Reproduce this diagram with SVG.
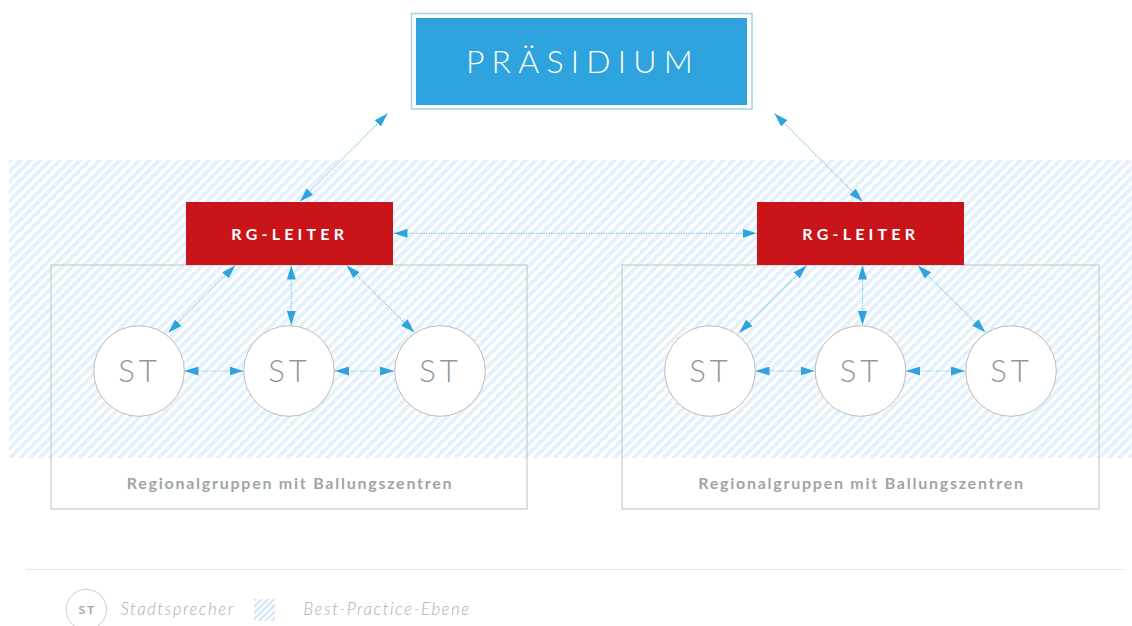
<svg xmlns="http://www.w3.org/2000/svg" width="1132" height="626" viewBox="0 0 1132 626">
<defs>
<pattern id="hatch" patternUnits="userSpaceOnUse" width="7" height="7" patternTransform="rotate(45)">
<rect x="0" y="0" width="3.8" height="7" fill="#e4f1fb"/>
</pattern>
<pattern id="hatch2" patternUnits="userSpaceOnUse" width="4.5" height="4.5" patternTransform="rotate(45)">
<rect x="0" y="0" width="2.2" height="4.5" fill="#cfe5f8"/>
</pattern>
<marker id="ah" viewBox="0 0 14 9" refX="14" refY="4.5" markerWidth="14" markerHeight="9" markerUnits="userSpaceOnUse" orient="auto-start-reverse">
<path d="M0,0 L14,4.5 L0,9 Z" fill="#2ea3dd"/>
</marker>
<style>
.conn{stroke:#7cc3ea;stroke-width:1.2;stroke-dasharray:1.2 1.3;fill:none;marker-start:url(#ah);marker-end:url(#ah)}
.rg rect{fill:#c9151a}
.rg text{font-family:Lato,"Open Sans",sans-serif;font-weight:700;font-size:16px;letter-spacing:4.2px;fill:#ffffff;text-anchor:middle}
.st circle{fill:#ffffff;stroke:#b9bcba;stroke-width:1}
.st text{font-family:Lato,"Open Sans",sans-serif;font-weight:300;font-size:31px;letter-spacing:4px;fill:#8e9892;text-anchor:middle}
.grp{fill:none;stroke:#c9cccb;stroke-width:1.2}
.cap{font-family:Lato,"Open Sans",sans-serif;font-weight:700;font-size:16px;letter-spacing:1.75px;fill:#9ea6a1;text-anchor:middle}
.leg{font-family:Lato,"Open Sans",sans-serif;font-weight:300;font-style:italic;font-size:17px;letter-spacing:1.45px;fill:#a9afac}
</style>
</defs>
<rect width="1132" height="626" fill="#ffffff"/>
<rect id="best-practice" x="9" y="160" width="1123" height="298" fill="url(#hatch)"/>
<rect id="group-left" class="grp" x="51" y="265" width="476" height="244"/>
<rect id="group-right" class="grp" x="622" y="265" width="477" height="244"/>
<text class="cap" x="290" y="489">Regionalgruppen mit Ballungszentren</text>
<text class="cap" x="861.5" y="489">Regionalgruppen mit Ballungszentren</text>

<g id="praesidium">
<rect x="411.5" y="13.5" width="340.5" height="95.5" fill="none" stroke="#9fd3ee" stroke-width="1.5"/>
<rect x="416" y="18" width="331" height="87" fill="#2ea3dd"/>
<text x="583" y="73" font-family="Lato,'Open Sans',sans-serif" font-weight="300" font-size="32" letter-spacing="7.2" fill="#ffffff" text-anchor="middle">PRÄSIDIUM</text>
</g>

<g id="rg-left" class="rg"><rect x="186" y="202" width="207" height="63"/><text x="289.8" y="240">RG-LEITER</text></g>
<g id="rg-right" class="rg"><rect x="757" y="202" width="207" height="63"/><text x="860.8" y="240">RG-LEITER</text></g>

<g id="st-l1" class="st"><circle cx="139" cy="371" r="45.3"/><text x="139.5" y="382">ST</text></g>
<g id="st-l2" class="st"><circle cx="289" cy="371" r="45.3"/><text x="289.5" y="382">ST</text></g>
<g id="st-l3" class="st"><circle cx="440" cy="371" r="45.3"/><text x="440.5" y="382">ST</text></g>
<g id="st-r1" class="st"><circle cx="710" cy="371" r="45.3"/><text x="710.5" y="382">ST</text></g>
<g id="st-r2" class="st"><circle cx="860.5" cy="371" r="45.3"/><text x="861" y="382">ST</text></g>
<g id="st-r3" class="st"><circle cx="1011" cy="371" r="45.3"/><text x="1011.5" y="382">ST</text></g>

<g id="connectors">
<line class="conn" x1="387.5" y1="113.5" x2="300" y2="201.5"/>
<line class="conn" x1="774.5" y1="113.5" x2="862.5" y2="201.5"/>
<line class="conn" x1="393.5" y1="233.3" x2="756.5" y2="233.3"/>
<line class="conn" x1="235.3" y1="265.5" x2="168.3" y2="332.7"/>
<line class="conn" x1="291.3" y1="265.5" x2="291.3" y2="325"/>
<line class="conn" x1="346.7" y1="265.5" x2="414.3" y2="332.3"/>
<line class="conn" x1="184.5" y1="371" x2="243.5" y2="371"/>
<line class="conn" x1="335" y1="371" x2="394" y2="371"/>
<line class="conn" x1="806.5" y1="265.5" x2="739.3" y2="332.7"/>
<line class="conn" x1="862.5" y1="265.5" x2="862.5" y2="325"/>
<line class="conn" x1="917.9" y1="265.5" x2="985.3" y2="332.3"/>
<line class="conn" x1="755.5" y1="371" x2="814.5" y2="371"/>
<line class="conn" x1="906" y1="371" x2="965" y2="371"/>
</g>

<g id="legend">
<line x1="26" y1="569.5" x2="1124" y2="569.5" stroke="#e4e6e5" stroke-width="1"/>
<circle cx="86.3" cy="609.6" r="20.2" fill="#ffffff" stroke="#c9cccb" stroke-width="1"/>
<text x="87.2" y="614" font-family="Lato,'Open Sans',sans-serif" font-weight="700" font-size="12" letter-spacing="1.8" fill="#a3aaa6" text-anchor="middle">ST</text>
<text class="leg" x="120.5" y="615">Stadtsprecher</text>
<rect x="254" y="599" width="21" height="22" fill="url(#hatch2)"/>
<text class="leg" x="303.3" y="615">Best-Practice-Ebene</text>
</g>
</svg>
